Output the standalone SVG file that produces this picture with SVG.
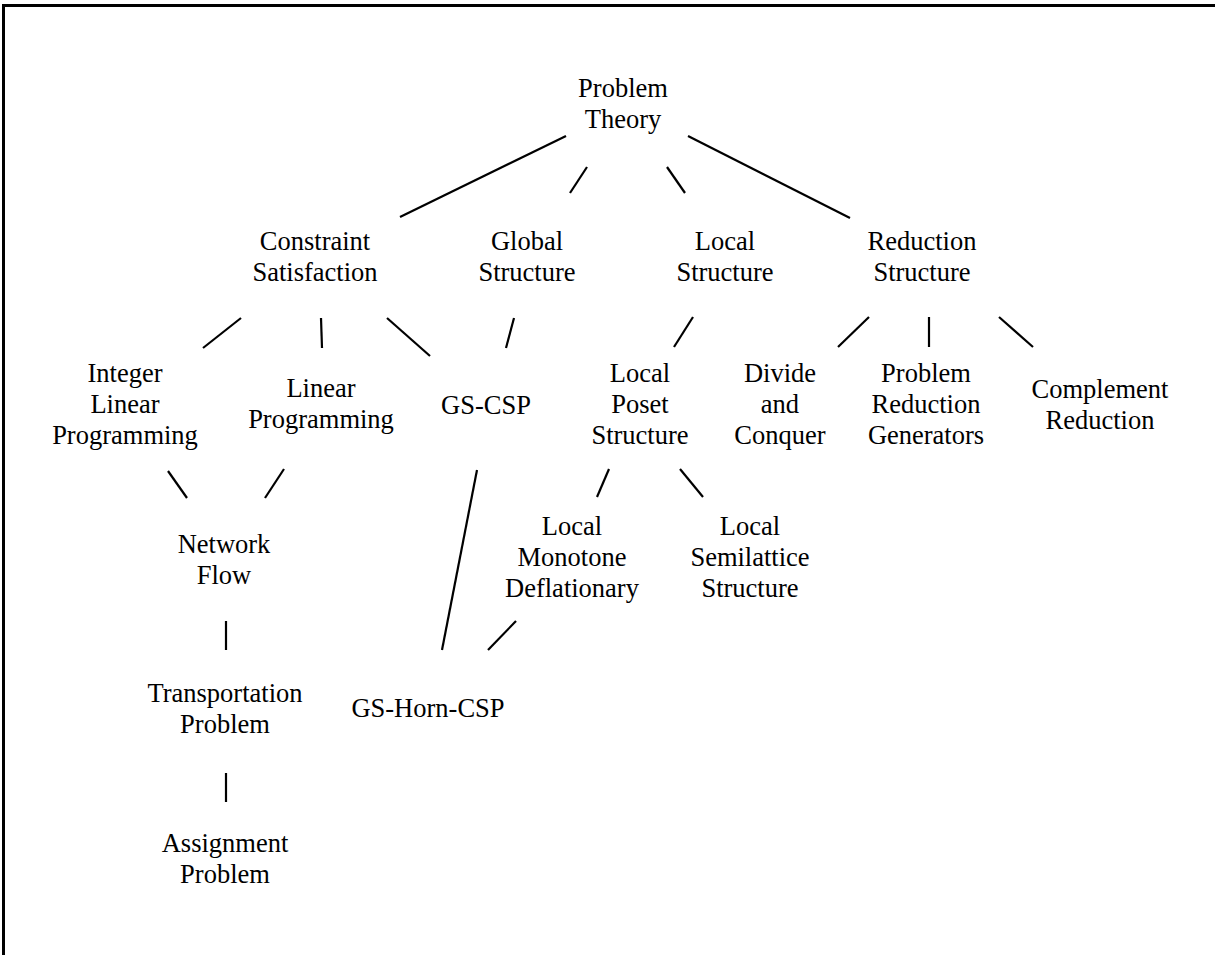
<svg xmlns="http://www.w3.org/2000/svg" width="1215" height="955" viewBox="0 0 1215 955">
<style>
text{font-family:"Liberation Serif","Times New Roman",serif;font-size:26.5px;fill:#000;text-anchor:middle}
.c line{stroke:#000;stroke-width:2.2;stroke-linecap:butt}
</style>
<rect width="1215" height="955" fill="#fff"/>
<path d="M3.5 955 V5.5 H1215" fill="none" stroke="#000" stroke-width="3"/>
<g class="c" id="connectors">
<line x1="566" y1="136" x2="400" y2="217"/>
<line x1="587" y1="167" x2="570" y2="193"/>
<line x1="667" y1="167" x2="685" y2="193"/>
<line x1="688" y1="136" x2="850" y2="218"/>
<line x1="241" y1="318" x2="203" y2="348"/>
<line x1="321" y1="318" x2="322" y2="348"/>
<line x1="387" y1="318" x2="430" y2="356"/>
<line x1="514" y1="318" x2="506" y2="348"/>
<line x1="693" y1="317" x2="674" y2="347"/>
<line x1="869" y1="317" x2="838" y2="347"/>
<line x1="929" y1="317" x2="929" y2="347"/>
<line x1="999" y1="317" x2="1033" y2="347"/>
<line x1="168" y1="471" x2="187" y2="498"/>
<line x1="284" y1="469" x2="265" y2="498"/>
<line x1="477" y1="470" x2="442" y2="650"/>
<line x1="609" y1="469" x2="597" y2="497"/>
<line x1="680" y1="469" x2="703" y2="497"/>
<line x1="516" y1="621" x2="488" y2="650"/>
<line x1="226" y1="621" x2="226" y2="650"/>
<line x1="226" y1="773" x2="226" y2="802"/>
</g>
<g id="problem-theory"><text x="623" y="97">Problem</text><text x="623" y="128">Theory</text></g>
<g id="constraint-satisfaction"><text x="315" y="250">Constraint</text><text x="315" y="281">Satisfaction</text></g>
<g id="global-structure"><text x="527" y="250">Global</text><text x="527" y="281">Structure</text></g>
<g id="local-structure"><text x="725" y="250">Local</text><text x="725" y="281">Structure</text></g>
<g id="reduction-structure"><text x="922" y="250">Reduction</text><text x="922" y="281">Structure</text></g>
<g id="integer-linear-programming"><text x="125" y="382">Integer</text><text x="125" y="413">Linear</text><text x="125" y="444">Programming</text></g>
<g id="linear-programming"><text x="321" y="397">Linear</text><text x="321" y="428">Programming</text></g>
<g id="gs-csp"><text x="486" y="414">GS-CSP</text></g>
<g id="local-poset-structure"><text x="640" y="382">Local</text><text x="640" y="413">Poset</text><text x="640" y="444">Structure</text></g>
<g id="divide-and-conquer"><text x="780" y="382">Divide</text><text x="780" y="413">and</text><text x="780" y="444">Conquer</text></g>
<g id="problem-reduction-generators"><text x="926" y="382">Problem</text><text x="926" y="413">Reduction</text><text x="926" y="444">Generators</text></g>
<g id="complement-reduction"><text x="1100" y="398">Complement</text><text x="1100" y="429">Reduction</text></g>
<g id="network-flow"><text x="224" y="553">Network</text><text x="224" y="584">Flow</text></g>
<g id="local-monotone-deflationary"><text x="572" y="535">Local</text><text x="572" y="566">Monotone</text><text x="572" y="597">Deflationary</text></g>
<g id="local-semilattice-structure"><text x="750" y="535">Local</text><text x="750" y="566">Semilattice</text><text x="750" y="597">Structure</text></g>
<g id="transportation-problem"><text x="225" y="702">Transportation</text><text x="225" y="733">Problem</text></g>
<g id="gs-horn-csp"><text x="428" y="717">GS-Horn-CSP</text></g>
<g id="assignment-problem"><text x="225" y="852">Assignment</text><text x="225" y="883">Problem</text></g>
</svg>
